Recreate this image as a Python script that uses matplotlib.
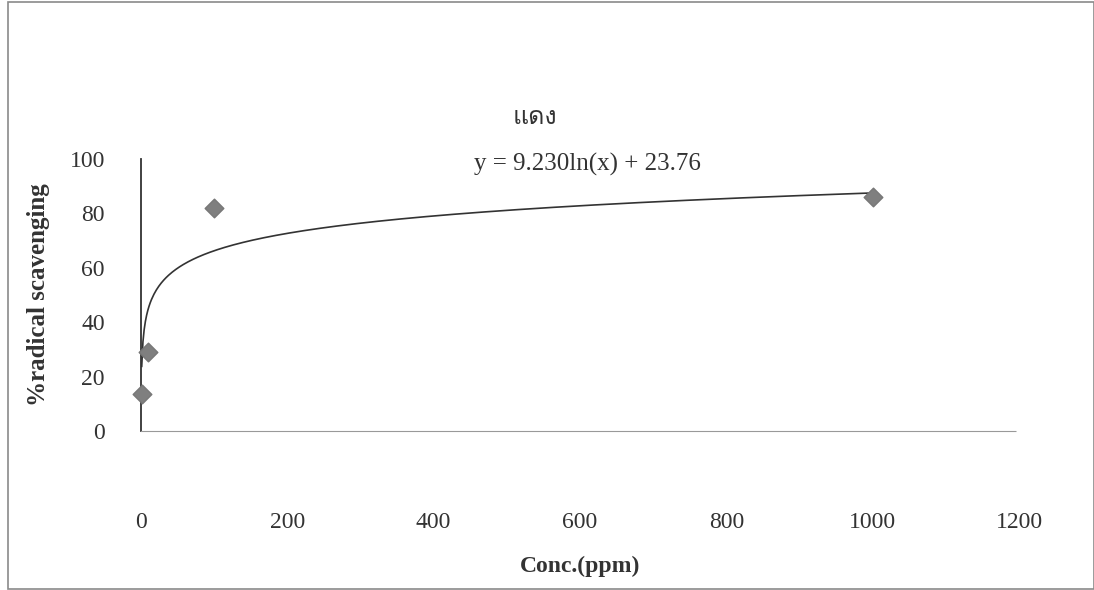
import numpy as np
import matplotlib
matplotlib.use("Agg")
import matplotlib.pyplot as plt
from matplotlib.patches import Rectangle
from matplotlib import font_manager
from matplotlib.ft2font import FT2Font

# Data
conc = [1, 10, 100, 1000]
scavenging = [13.5, 29.0, 82.0, 86.0]
fit_a = 9.230
fit_b = 23.76
x_ticks = [0, 200, 400, 600, 800, 1000, 1200]
y_ticks = [0, 20, 40, 60, 80, 100]
title = "แดง"
equation = "y = 9.230ln(x) + 23.76"
xlabel = "Conc.(ppm)"
ylabel = "%radical scavenging"


def find_thai_family():
    found = []
    for f in font_manager.fontManager.ttflist:
        try:
            cm = FT2Font(f.fname).get_charmap()
        except Exception:
            continue
        if all(ord(c) in cm for c in title):
            found.append(f.name)
    serif = [n for n in found if 'Serif' in n or 'Loma' in n or 'Norasi' in n]
    return (serif or found or ['DejaVu Sans'])[0]


thai_family = find_thai_family()
plt.rcParams['font.family'] = ['Liberation Serif', thai_family, 'DejaVu Sans']

fig = plt.figure(figsize=(10.94, 5.90), dpi=100)
fig.patches.append(Rectangle((8/1094, 0.002), 1 - 8/1094, 0.994, transform=fig.transFigure,
                             fill=False, edgecolor='#8a8a8a', linewidth=1.2))

ax = fig.add_axes([141/1094, 159/590, 878/1094, 272/590])
ax.set_xlim(0, 1200)
ax.set_ylim(0, 100)

xf = np.linspace(1, 1000, 600)
ax.plot(xf, fit_a * np.log(xf) + fit_b, color='#333333', linewidth=1.2, zorder=2)
ax.scatter(conc, scavenging, marker='D', s=90, color='#7f7f7f', edgecolor='#777777', zorder=3, clip_on=False)

ax.set_xticks(x_ticks)
ax.set_yticks(y_ticks)
ax.tick_params(axis='both', length=0, labelsize=17, labelcolor='#333333')
ax.tick_params(axis='x', pad=58)
ax.tick_params(axis='y', pad=26)

for s in ['top', 'right']:
    ax.spines[s].set_visible(False)
ax.spines['left'].set_color('#333333')
ax.spines['left'].set_linewidth(1.3)
ax.spines['bottom'].set_color('#999999')
ax.spines['bottom'].set_linestyle((0, (1, 1)))
ax.spines['bottom'].set_bounds(0, 1196)

ax.set_xlabel(xlabel, fontsize=17, fontweight='bold', color='#333333', labelpad=17)
ax.set_ylabel(ylabel, fontsize=18, fontweight='bold', color='#333333', labelpad=14)

fig.text(535/1094, 1 - 118/590, title, fontsize=18, ha='center', va='center', color='#333333',
         family=[thai_family, 'DejaVu Sans'])
fig.text(587/1094, 1 - 164/590, equation, fontsize=18, ha='center', va='center', color='#333333')

fig.savefig('out.png', dpi=100)
